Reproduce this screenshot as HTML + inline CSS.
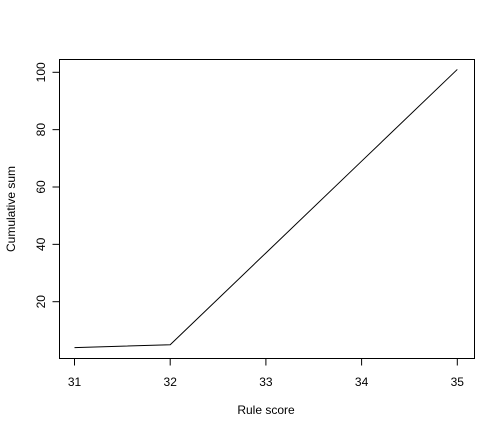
<!DOCTYPE html>
<html><head><meta charset="utf-8"><style>
body{margin:0;background:#fff;}
text{font-family:"Liberation Sans",Arial,sans-serif;font-size:12px;fill:#000;}
</style></head><body>
<svg id="chart" width="504" height="432" xmlns="http://www.w3.org/2000/svg">
<rect x="59.5" y="59.5" width="415" height="299" fill="none" stroke="#000" stroke-width="1"/>
<g id="xaxis"></g><g id="yaxis"></g>
<text x="266" y="414" text-anchor="middle">Rule score</text>
<text transform="translate(15,209) rotate(-90)" text-anchor="middle">Cumulative sum</text>
</svg>
<script>
const categories=[31,32,33,34,35];
const values=[4,5,37,69,101];
const xTicks=[31,32,33,34,35];
const yTicks=[20,40,60,80,100];
const NS="http://www.w3.org/2000/svg";
const svg=document.getElementById('chart');
function sx(v){return 74.5+(v-31)*95.7;}
function sy(v){return 301.7-(v-20)*2.8675;}
function mk(t,a){const e=document.createElementNS(NS,t);for(const k in a)e.setAttribute(k,a[k]);return e;}
const xg=document.getElementById('xaxis');
xg.appendChild(Object.assign(mk('line',{x1:sx(31),x2:sx(35),y1:358.5,y2:358.5,stroke:'#000'})));
xTicks.forEach(t=>{
 const l=mk('line',{x1:sx(t),x2:sx(t),y1:358.5,y2:365.5,stroke:'#000'});
 
 
 xg.appendChild(l);
 const tx=mk('text',{x:sx(t),y:386,'text-anchor':'middle'});tx.textContent=t;
 
 
 xg.appendChild(tx);
});
const yg=document.getElementById('yaxis');
yg.appendChild(mk('line',{x1:59.5,x2:59.5,y1:sy(20),y2:sy(100),stroke:'#000'}));
yTicks.forEach(t=>{
 const l=mk('line',{x1:52.5,x2:59.5,y1:sy(t),y2:sy(t),stroke:'#000'});
 
 
 yg.appendChild(l);
 const tx=mk('text',{transform:`translate(45,${sy(t)}) rotate(-90)`,'text-anchor':'middle'});tx.textContent=t;
 
 
 yg.appendChild(tx);
});
const pts=categories.map((c,i)=>sx(c)+','+sy(values[i])).join(' ');
const pl=mk('polyline',{points:pts,fill:'none',stroke:'#000','stroke-width':1});


svg.appendChild(pl);
</script>
</body></html>
